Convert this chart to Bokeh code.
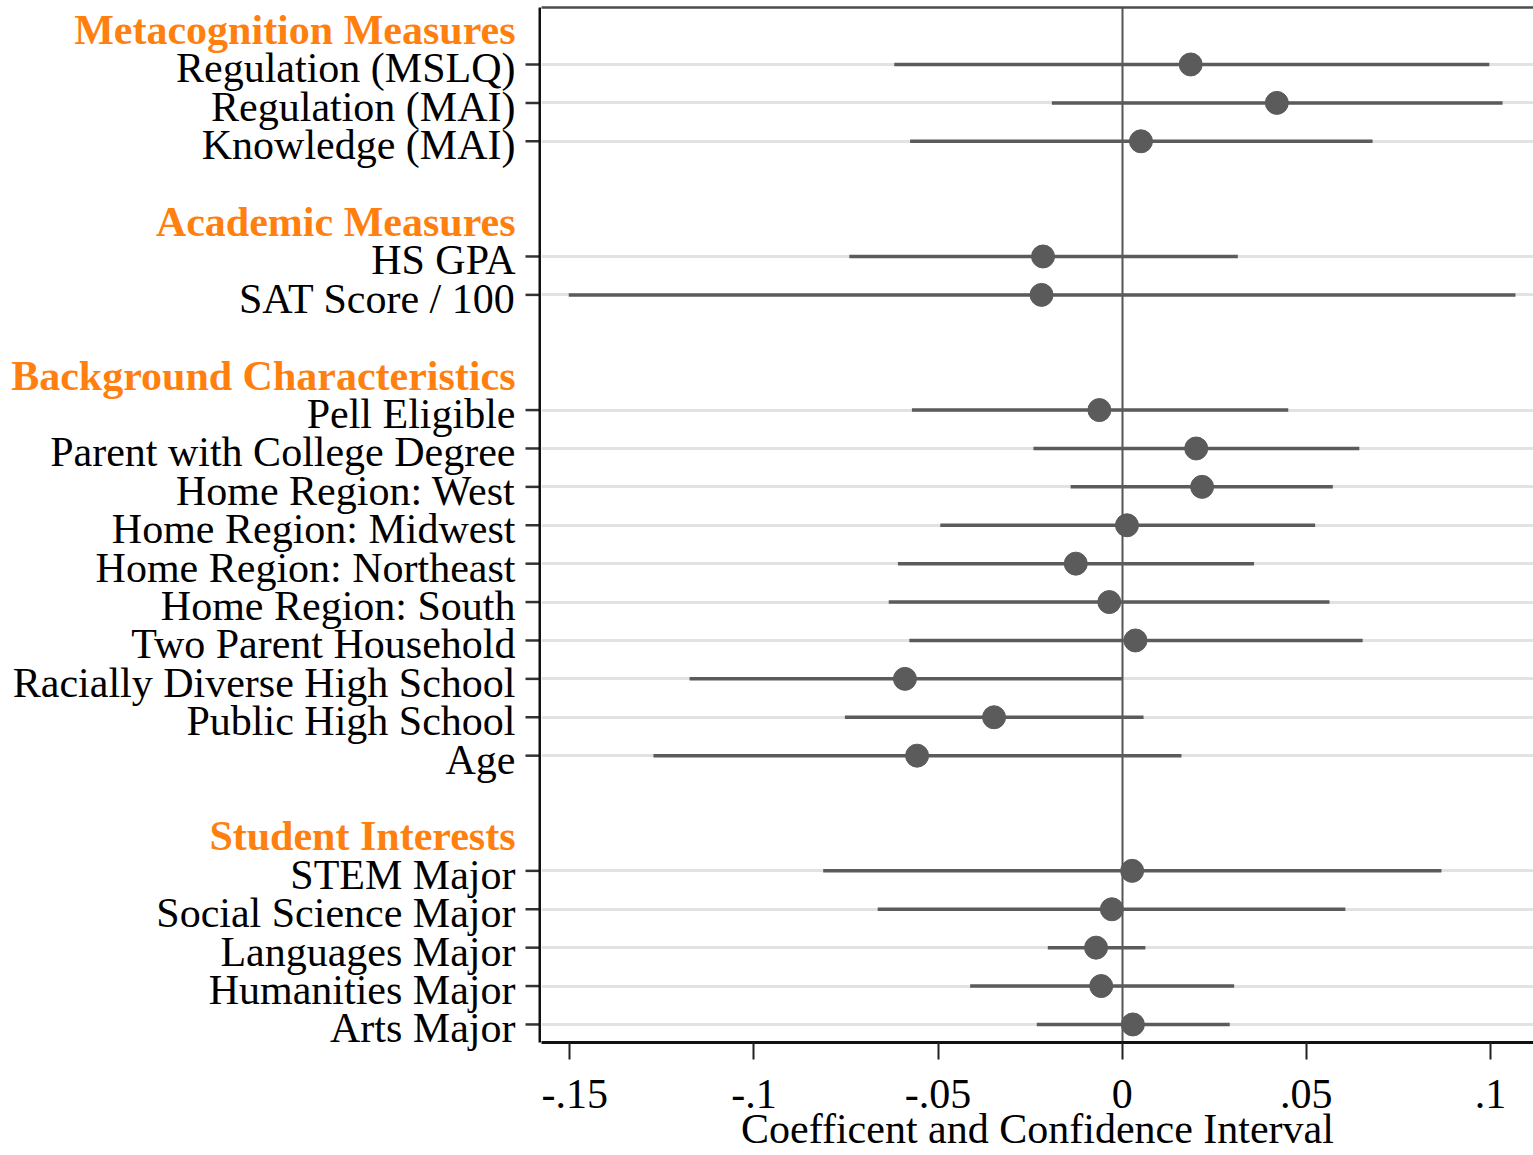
from bokeh.plotting import figure
from bokeh.layouts import row
from bokeh.models import Range1d, FixedTicker, LinearAxis, ColumnDataSource
from bokeh.core.properties import value
from bokeh.embed import file_html
from bokeh.resources import INLINE

# Group headings
group_titles = ["Metacognition Measures", "Academic Measures",
                "Background Characteristics", "Student Interests"]

# Metacognition measures
metacog_items = ["Regulation (MSLQ)", "Regulation (MAI)", "Knowledge (MAI)"]
metacog_coef = [0.0186, 0.0420, 0.0051]
metacog_lo = [-0.0619, -0.0191, -0.0576]
metacog_hi = [0.0997, 0.1033, 0.0680]

# Academic measures
academic_items = ["HS GPA", "SAT Score / 100"]
academic_coef = [-0.0215, -0.0219]
academic_lo = [-0.0741, -0.1503]
academic_hi = [0.0314, 0.1068]

# Background characteristics
background_items = ["Pell Eligible", "Parent with College Degree", "Home Region: West",
                    "Home Region: Midwest", "Home Region: Northeast", "Home Region: South",
                    "Two Parent Household", "Racially Diverse High School",
                    "Public High School", "Age"]
background_coef = [-0.0062, 0.0201, 0.0217, 0.0013, -0.0126, -0.0035, 0.0036, -0.0590, -0.0348, -0.0557]
background_lo = [-0.0571, -0.0241, -0.0140, -0.0494, -0.0609, -0.0634, -0.0578, -0.1175, -0.0753, -0.1273]
background_hi = [0.0451, 0.0644, 0.0572, 0.0524, 0.0358, 0.0563, 0.0653, 0.0000, 0.0058, 0.0161]

# Student interests
interest_items = ["STEM Major", "Social Science Major", "Languages Major",
                  "Humanities Major", "Arts Major"]
interest_coef = [0.0027, -0.0028, -0.0071, -0.0057, 0.0029]
interest_lo = [-0.0812, -0.0664, -0.0202, -0.0413, -0.0232]
interest_hi = [0.0867, 0.0606, 0.0063, 0.0304, 0.0292]

# X axis ticks
x_ticks = [-0.15, -0.1, -0.05, 0, 0.05, 0.1]
x_tick_labels = ["-.15", "-.1", "-.05", "0", ".05", ".1"]
x_title = "Coefficent and Confidence Interval"

groups = [
    (metacog_items, metacog_coef, metacog_lo, metacog_hi),
    (academic_items, academic_coef, academic_lo, academic_hi),
    (background_items, background_coef, background_lo, background_hi),
    (interest_items, interest_coef, interest_lo, interest_hi),
]

# Rows top to bottom: heading row, item rows, one blank row between groups
header_pos = []
labels, coefs, los, his, ypos = [], [], [], [], []
r = 0
for items, c, lo, hi in groups:
    header_pos.append(r)
    r += 1
    for name, cv, lv, hv in zip(items, c, lo, hi):
        labels.append(name)
        coefs.append(cv)
        los.append(lv)
        his.append(hv)
        ypos.append(r)
        r += 1
    r += 1
last_row = ypos[-1]

src = ColumnDataSource(dict(y=ypos, coef=coefs, lo=los, hi=his))

SERIF = "Liberation Serif"
ORANGE = "#ff7f0f"
MARK = "#5b5b5b"
W, H = 1533, 1155
PANEL_W = 541            # width of the label / y-axis column
TOP, BOTTOM = 7, 113     # frame margins of the coefficient plot
TICK_LEN = 16

# y extent of the coefficient frame (flipped: first row on top)
y_top, y_bot = -0.484, last_row + 0.47
px_per_row = (H - TOP - BOTTOM) / (y_bot - y_top)
x_lo, x_hi = -0.1577, 0.1117

# ---- label column: item names, group headings, y ticks, y axis line ----
lab = figure(width=PANEL_W, height=H, output_backend="svg", toolbar_location=None,
             x_range=Range1d(0, PANEL_W),
             y_range=Range1d(y_bot + BOTTOM / px_per_row, y_top - TOP / px_per_row),
             x_axis_location=None, y_axis_location=None,
             min_border_left=0, min_border_right=0, min_border_top=0, min_border_bottom=0)
lab.frame_align = False
lab.outline_line_color = None
lab.grid.grid_line_color = None

label_right = PANEL_W - TICK_LEN - 10
item_src = ColumnDataSource(dict(x=[label_right] * len(labels), y=ypos, t=labels,
                                 x0=[PANEL_W - TICK_LEN] * len(ypos), x1=[PANEL_W] * len(ypos)))
lab.text(x="x", y="y", text="t", source=item_src, text_align="right",
         text_baseline="alphabetic", y_offset=4,
         text_font=value(SERIF), text_font_size="42px", text_color="black")

head_src = ColumnDataSource(dict(x=[label_right] * len(group_titles), y=header_pos, t=group_titles))
lab.text(x="x", y="y", text="t", source=head_src, text_align="right",
         text_baseline="alphabetic", y_offset=4,
         text_font=value(SERIF), text_font_style="bold", text_font_size="42px",
         text_color=ORANGE)

# y tick marks and the left axis line
lab.segment(x0="x0", y0="y", x1="x1", y1="y", source=item_src,
            line_color="#333333", line_width=2.5)
lab.segment(x0=[PANEL_W - 1.5], y0=[y_top], x1=[PANEL_W - 1.5], y1=[y_bot],
            line_color="#111111", line_width=3)

# ---- coefficient plot ---------------------------------------------------
p = figure(width=W - PANEL_W, height=H, output_backend="svg", toolbar_location=None,
           x_range=Range1d(x_lo, x_hi), y_range=Range1d(y_bot, y_top),
           y_axis_location=None,
           min_border_left=0, min_border_right=0,
           min_border_top=TOP, min_border_bottom=BOTTOM)
p.frame_align = False
p.outline_line_color = None
p.background_fill_color = "white"
p.border_fill_color = "white"

xax = p.xaxis[0]
xax.ticker = FixedTicker(ticks=x_ticks)
xax.major_label_overrides = {t: s for t, s in zip(x_ticks, x_tick_labels)}
xax.major_label_text_font = SERIF
xax.major_label_text_font_size = "42px"
xax.major_label_text_color = "black"
xax.major_label_standoff = 20
xax.major_tick_out = 17
xax.major_tick_in = 0
xax.major_tick_line_width = 2
xax.major_tick_line_color = "#222222"
xax.minor_tick_line_color = None
xax.axis_line_color = "#111111"
xax.axis_line_width = 3
xax.axis_label = x_title
xax.axis_label_text_font = SERIF
xax.axis_label_text_font_size = "42px"
xax.axis_label_text_font_style = "normal"
xax.axis_label_text_color = "black"
xax.axis_label_standoff = -5

# top edge of the frame
p.add_layout(LinearAxis(ticker=FixedTicker(ticks=[]), major_label_text_font_size="0px",
                        major_tick_line_color=None, minor_tick_line_color=None,
                        major_tick_out=0, major_label_standoff=0,
                        axis_line_color="#4d4d4d", axis_line_width=2.5), "above")

p.xgrid.grid_line_color = None
p.ygrid.ticker = FixedTicker(ticks=ypos)
p.ygrid.grid_line_color = "#e2e2e2"
p.ygrid.grid_line_width = 3

# zero reference line
p.vspan(x=[0], line_color="#555555", line_width=2)

# confidence intervals and point estimates
p.segment(x0="lo", y0="y", x1="hi", y1="y", source=src, line_color=MARK, line_width=3.5)
p.scatter(x="coef", y="y", source=src, size=23, fill_color=MARK, line_color=MARK)

layout = row(lab, p, spacing=0)
open("out.html", "w").write(file_html(layout, INLINE))
